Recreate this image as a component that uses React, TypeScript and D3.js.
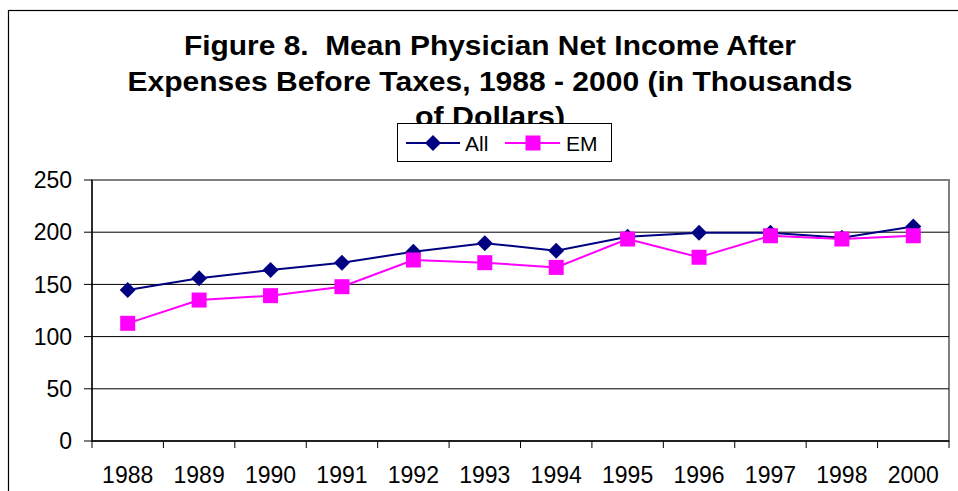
import React from "react";
import * as d3 from "d3";

const years = ["1988","1989","1990","1991","1992","1993","1994","1995","1996","1997","1998","2000"];
const allValues = [144.6,155.8,163.8,170.8,181.3,189.5,182.3,195.7,199.5,199.5,194.7,205.5];
const emValues = [112.7,135,139.2,147.8,173.4,170.8,166.3,193.5,176,196.6,193.5,196.6];
const yTicks = [0,50,100,150,200,250];
const titleLines = ["Figure 8.  Mean Physician Net Income After","Expenses Before Taxes, 1988 - 2000 (in Thousands","of Dollars)"];
const titleWidths = [612, 725, 150];

export default function App() {
  const W = 958, H = 491;
  const left = 92, right = 949, top = 180, bottom = 441;
  const x = d3.scaleBand<string>().domain(years).range([left, right]);
  const y = d3.scaleLinear().domain([0, 250]).range([bottom, top]);
  const cx = (yr: string) => (x(yr) as number) + x.bandwidth() / 2;
  const line = d3.line<number>().x((_, i) => cx(years[i])).y(v => y(v));
  const font = "Arial, 'Liberation Sans', sans-serif";
  const diamond = (px: number, py: number, r: number) => `M${px},${py - r}L${px + r},${py}L${px},${py + r}L${px - r},${py}Z`;
  return (
    <svg width={W} height={H} style={{ position: "absolute", left: 0, top: 0 }} fontFamily={font}>
      <rect x={0} y={0} width={W} height={H} fill="#fff" />
      <rect x={8.5} y={10.5} width={W + 20} height={H + 10} fill="none" stroke="#000" strokeWidth={1.2} />
      {titleLines.map((t, i) => (
        <text key={i} x={490} y={55 + i * 35.5} textAnchor="middle" fontSize={28} fontWeight="bold" fill="#000"
          xmlSpace="preserve" textLength={titleWidths[i]} lengthAdjust="spacingAndGlyphs">{t}</text>
      ))}
      {/* plot area */}
      <rect x={left} y={top} width={right - left} height={bottom - top} fill="#fff" stroke="#808080" strokeWidth={2} />
      {yTicks.map(t => (
        <g key={t}>
          {t > 0 && t < 250 && <line x1={left} x2={right} y1={y(t)} y2={y(t)} stroke="#000" strokeWidth={1} />}
          <line x1={left - 8} x2={left} y1={y(t)} y2={y(t)} stroke="#000" strokeWidth={1} />
          <text x={72} y={y(t)} dy="0.36em" textAnchor="end" fontSize={23} fill="#000">{t}</text>
        </g>
      ))}
      <line x1={left} x2={left} y1={top} y2={bottom} stroke="#000" strokeWidth={1.3} />
      <line x1={left} x2={right} y1={bottom} y2={bottom} stroke="#000" strokeWidth={1.3} />
      {years.map((yr, i) => (
        <g key={yr}>
          <line x1={x(yr) as number} x2={x(yr) as number} y1={bottom} y2={bottom + 7} stroke="#000" />
          {i === years.length - 1 && <line x1={right} x2={right} y1={bottom} y2={bottom + 7} stroke="#000" />}
          <text x={cx(yr)} y={483} textAnchor="middle" fontSize={23} fill="#000">{yr}</text>
        </g>
      ))}
      <path d={line(allValues) || ""} fill="none" stroke="#000080" strokeWidth={2} />
      <path d={line(emValues) || ""} fill="none" stroke="#FF00FF" strokeWidth={2} />
      {allValues.map((v, i) => (
        <path key={"a" + i} d={diamond(cx(years[i]), y(v), 8)} fill="#000080" />
      ))}
      {emValues.map((v, i) => (
        <rect key={"e" + i} x={cx(years[i]) - 7.5} y={y(v) - 7.5} width={15} height={15} fill="#FF00FF" />
      ))}
      {/* legend */}
      <rect x={397.5} y={123.5} width={214} height={38} fill="#fff" stroke="#000" strokeWidth={1} />
      <line x1={406} x2={460} y1={143} y2={143} stroke="#000080" strokeWidth={2} />
      <path d={diamond(433, 143, 8)} fill="#000080" />
      <text x={465} y={143} dy="0.36em" fontSize={21} fill="#000">All</text>
      <line x1={505} x2={560} y1={143} y2={143} stroke="#FF00FF" strokeWidth={2} />
      <rect x={525.5} y={135.5} width={15} height={15} fill="#FF00FF" />
      <text x={566} y={143} dy="0.36em" fontSize={21} fill="#000">EM</text>
    </svg>
  );
}
